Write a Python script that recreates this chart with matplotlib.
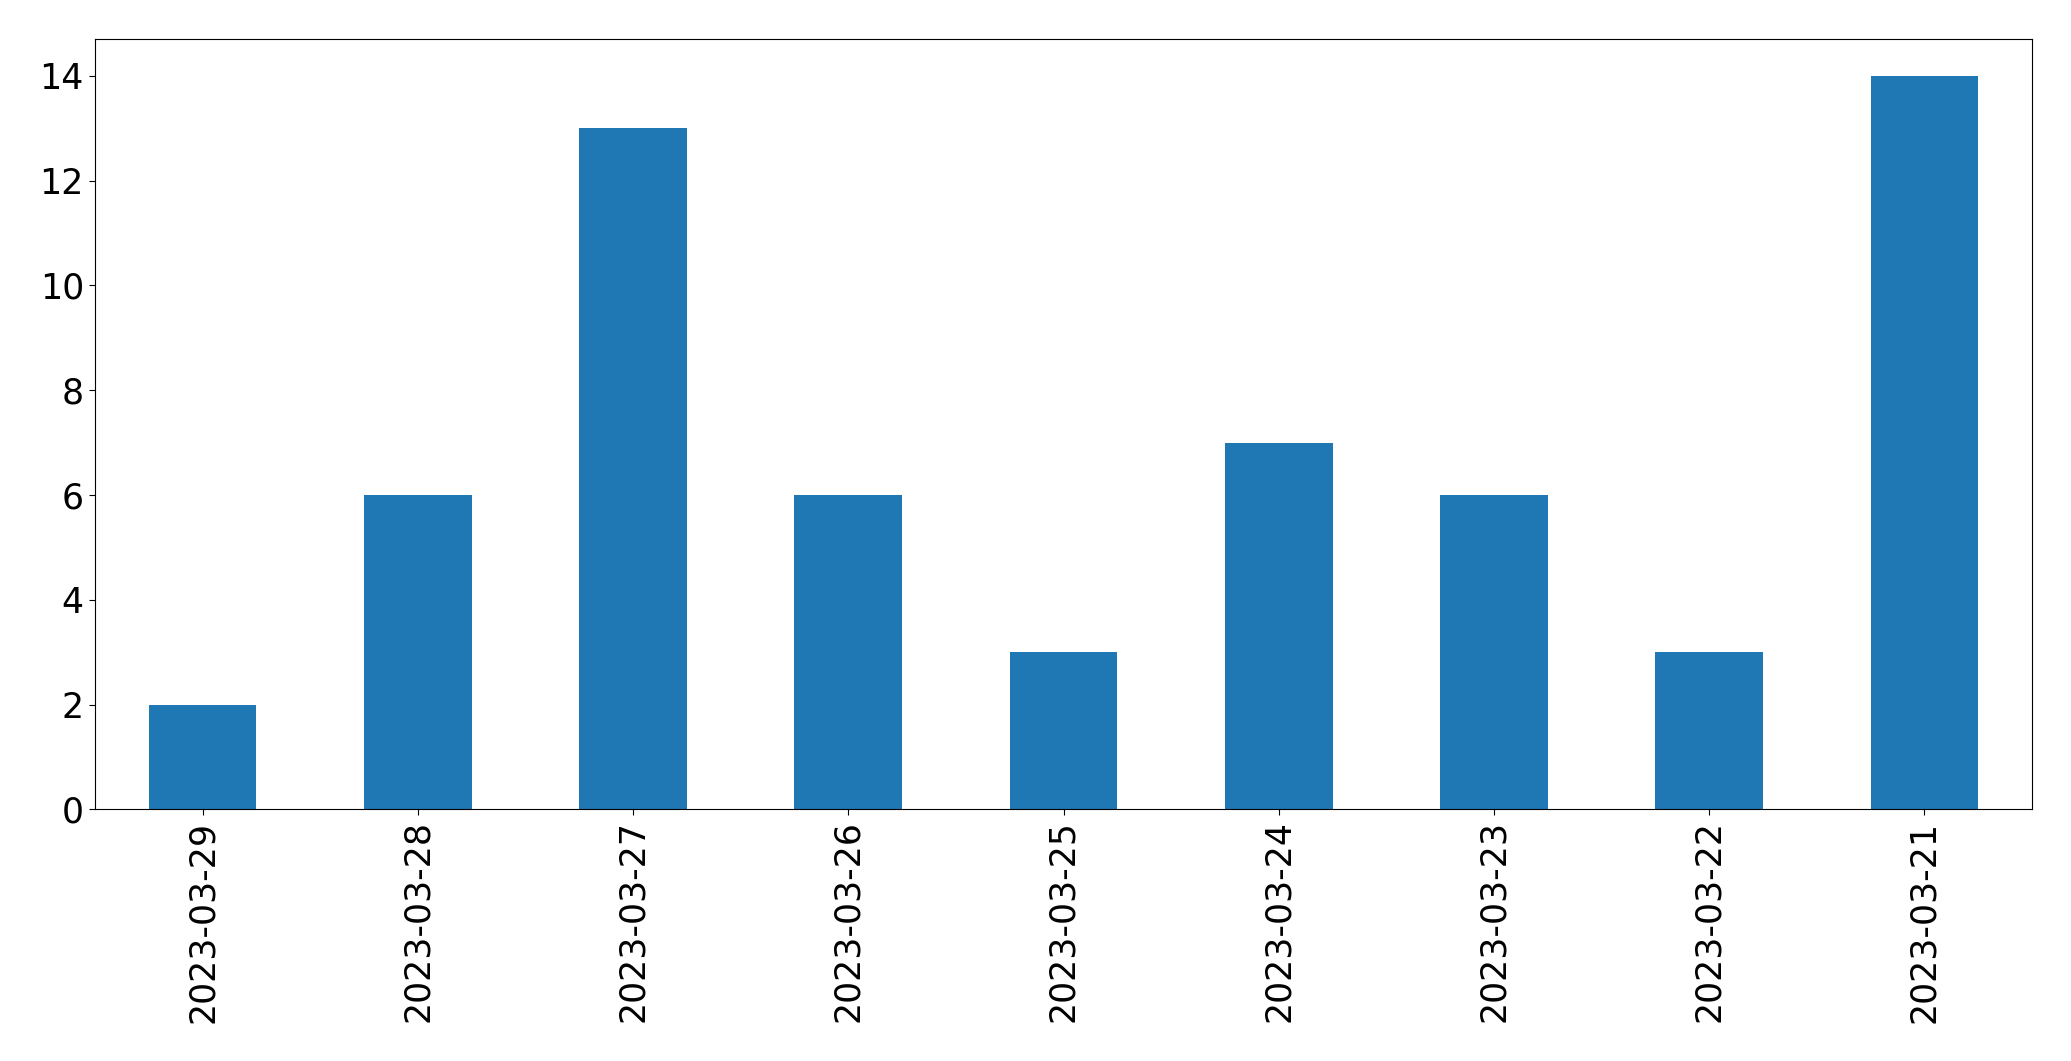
import matplotlib
matplotlib.use("Agg")
import matplotlib.pyplot as plt
import pandas as pd

dates = ["2023-03-29", "2023-03-28", "2023-03-27", "2023-03-26", "2023-03-25",
         "2023-03-24", "2023-03-23", "2023-03-22", "2023-03-21"]
counts = [2, 6, 13, 6, 3, 7, 6, 3, 14]

s = pd.Series(counts, index=dates)

fig = plt.figure(figsize=(20.71, 10.61), dpi=100)
ax = fig.add_axes([95 / 2071, 1 - 809.3 / 1061, (2032 - 95) / 2071, (809.3 - 39.3) / 1061])
s.plot(kind="bar", ax=ax, color="#1f77b4")
ax.set_ylim(0, 14.7)
ax.tick_params(axis="both", labelsize=25, length=4.5)
plt.setp(ax.get_xticklabels(), rotation=90)

fig.savefig("out.png", dpi=100)
